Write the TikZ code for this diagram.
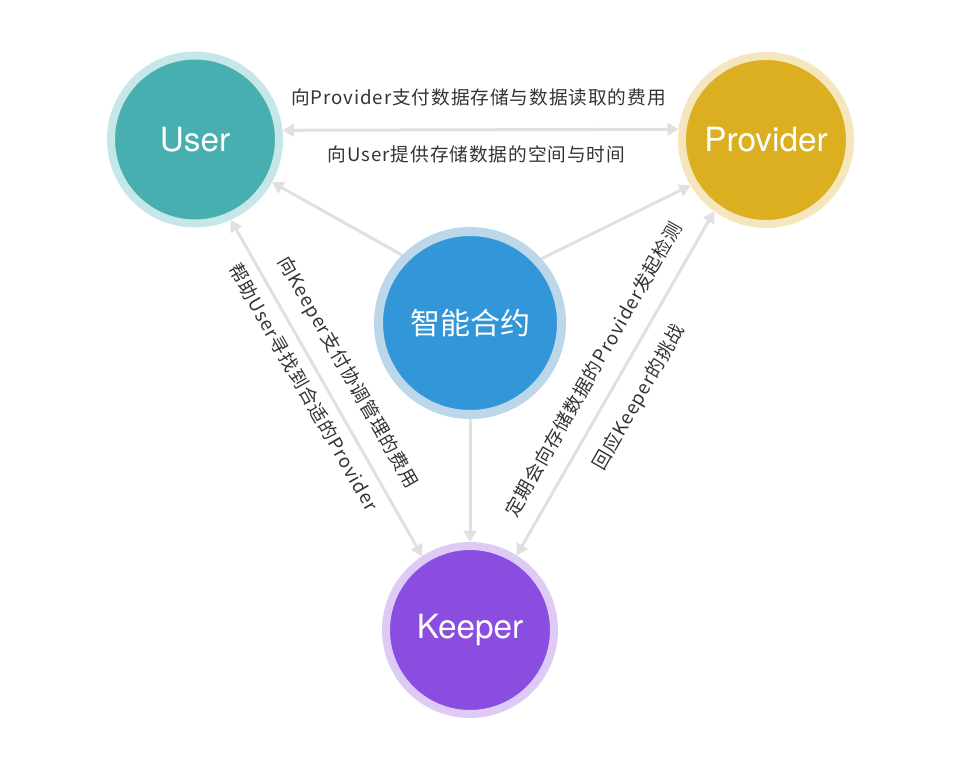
\documentclass[tikz,border=0pt]{standalone}
\usepackage{fontspec}
\setmainfont{Noto Sans CJK SC}
\newfontfamily\herosfont{TeX Gyre Heros}
\newfontfamily\lblfont[LetterSpace=5]{Noto Sans CJK SC}
\usetikzlibrary{arrows.meta}
\definecolor{userC}{HTML}{48AFB1}
\definecolor{userR}{HTML}{C6E7E8}
\definecolor{provC}{HTML}{DCAF21}
\definecolor{provR}{HTML}{F5E6BD}
\definecolor{contC}{HTML}{3396D8}
\definecolor{contR}{HTML}{BCD6EA}
\definecolor{keepC}{HTML}{8A4DE0}
\definecolor{keepR}{HTML}{DDCBF5}
\definecolor{lineC}{HTML}{E0E0E0}
\definecolor{txtC}{HTML}{333333}
\tikzset{
  party/.style={circle, inner sep=0pt, minimum size=126pt, line width=6pt, text=white, font=\herosfont\fontsize{25}{25}\selectfont},
  hub/.style={circle, inner sep=0pt, minimum size=137.25pt, line width=6.75pt, text=white, font=\fontsize{22.5}{22.5}\selectfont},
  conn/.style={draw=lineC, line width=2.25pt, -{Triangle[length=8.5pt,width=9.5pt]}},
  bothconn/.style={draw=lineC, line width=2.25pt, {Triangle[length=8.5pt,width=9.5pt]}-{Triangle[length=8.5pt,width=9.5pt]}},
  lbl/.style={inner sep=0pt, text=txtC, text height=0.88em, text depth=0.12em, font=\lblfont\fontsize{14}{14}\selectfont}
}
\begin{document}
\begin{tikzpicture}[x=0.75pt, y=-0.75pt]
\useasboundingbox (0,0) rectangle (960,760);
\node[party, fill=userC, draw=userR] (user) at (195,139.5) {User};
\node[party, fill=provC, draw=provR] (prov) at (766,140) {Provider};
\node[hub, fill=contC, draw=contR] (cont) at (470,323) {智能合约};
\node[party, fill=keepC, draw=keepR] (keep) at (470,630) {Keeper};

\draw[bothconn] (user.6.8) -- (prov.173);
\draw[conn] (cont.135) -- (user.-29.5);
\draw[conn] (cont.42) -- (prov.211.6);
\draw[conn] (cont.-90) -- (keep.90);
\draw[bothconn] (user.-66.5) -- (keep.123.3);
\draw[bothconn] (keep.58.4) -- (prov.-126);

\node[lbl] (l1) at (478.5,99.5) {向Provider支付数据存储与数据读取的费用};
\node[lbl] (l2) at (476.5,156.5) {向User提供存储数据的空间与时间};
\node[lbl, rotate=-60.3] (l3) at (302,388) {帮助User寻找到合适的Provider};
\node[lbl, rotate=-60.3] (l4) at (347,373) {向Keeper支付协调管理的费用};
\node[lbl, rotate=60.2] (l5) at (595,370) {定期会向存储数据的Provider发起检测};
\node[lbl, rotate=60.2] (l6) at (640,398) {回应Keeper的挑战};
\end{tikzpicture}
\end{document}
